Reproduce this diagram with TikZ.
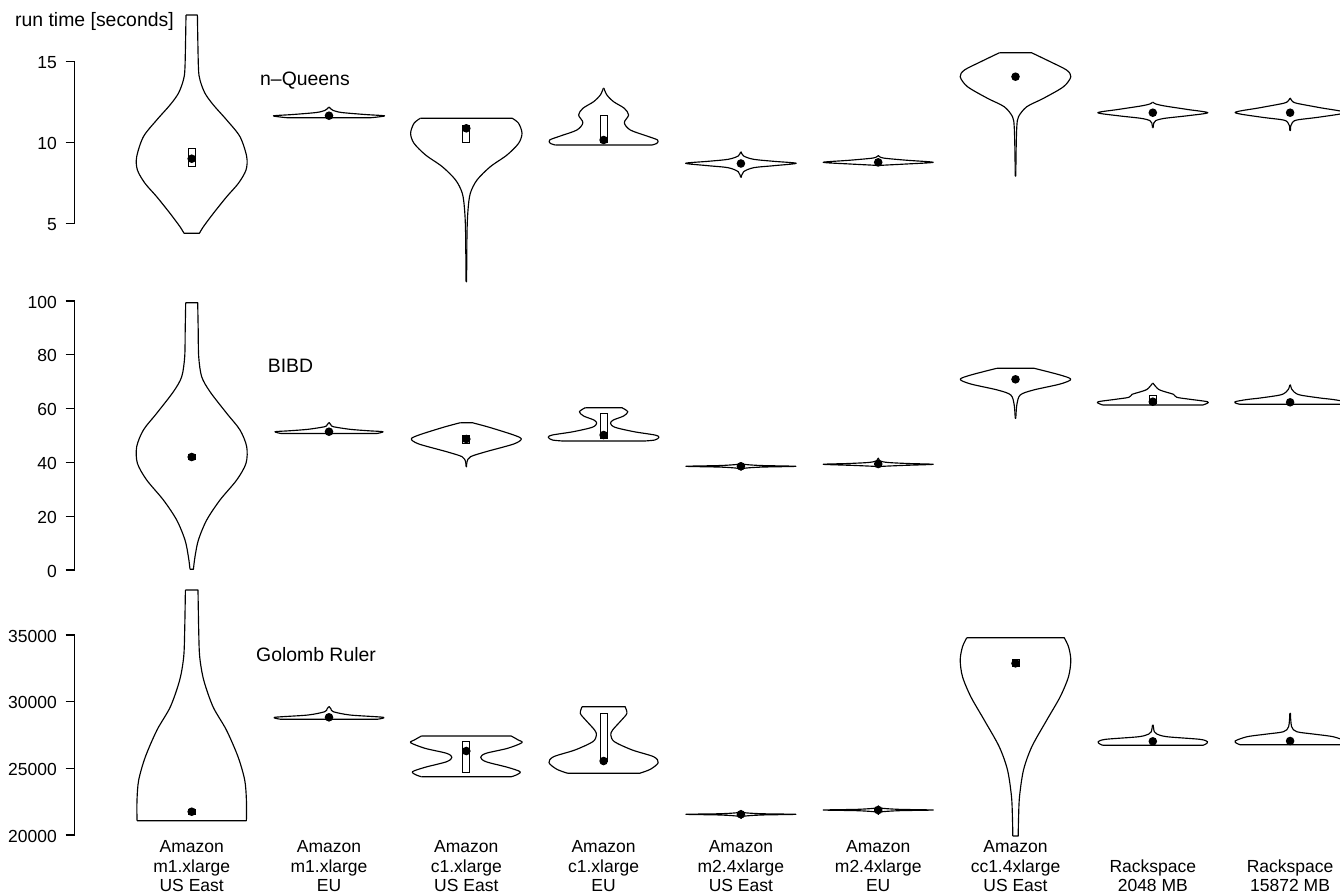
\documentclass[tikz,border=0pt]{standalone}
\usepackage{fontspec}
\setmainfont{Liberation Sans}
\begin{document}
\begin{tikzpicture}[x=1pt,y=-1pt,
  vl/.style={line width=1.15pt,line join=round},
  ax/.style={line width=1.15pt},
  ticklab/.style={anchor=base east,inner sep=0pt,font=\fontsize{17.5}{19.2}\selectfont},
  cat/.style={anchor=south,inner sep=0pt,align=center,font=\fontsize{17.5}{19.2}\selectfont},
  ttl/.style={anchor=base west,inner sep=0pt,font=\fontsize{19.4}{22}\selectfont}]
\useasboundingbox (0,0) rectangle (1340,895);
\newcommand\vio[6]{%
 \begin{scope}[shift={(#1,0)}]
 \draw[vl] (-#2,#3) -- (#2,#3) -- plot[smooth] coordinates {(#2,#3) #4 (#5,#6)} -- (-#5,#6);
 \draw[vl,xscale=-1] plot[smooth] coordinates {(#2,#3) #4 (#5,#6)};
 \end{scope}}
\newcommand\vbx[3]{\draw[line width=1pt,fill=white] (#1-3.5,#2) rectangle (#1+3.5,#3);}
\newcommand\vmed[2]{\fill (#1,#2) circle (4.3);}

% ---------------- axes ----------------
\draw[ax] (74.5,61.7) -- (74.5,223.3);
\foreach \y/\t [count=\i] in {61.7/15,142.7/10,223.3/5}{
  \draw[ax] (65.5,\y) -- (74.5,\y);
  \node[ticklab] (ta\i) at (57,\y+7) {\t};}
\draw[ax] (74.5,301) -- (74.5,570);
\foreach \y/\t [count=\i] in {301/100,354.8/80,408.6/60,462.4/40,516.2/20,570/0}{
  \draw[ax] (65.5,\y) -- (74.5,\y);
  \node[ticklab] (tb\i) at (57,\y+7) {\t};}
\draw[ax] (74.5,635) -- (74.5,835);
\foreach \y/\t [count=\i] in {635/35000,701.7/30000,768.3/25000,835/20000}{
  \draw[ax] (65.5,\y) -- (74.5,\y);
  \node[ticklab] (tc\i) at (57,\y+7) {\t};}

\node[ttl] (ylab) at (15,26.7) {run time [seconds]};
\node[ttl] (tq) at (260,85) {n–Queens};
\node[ttl] (tbibd) at (267.7,372.7) {BIBD};
\node[ttl] (tgol) at (256,661) {Golomb Ruler};

% ---------------- panel 1: n-Queens ----------------
\vio{191.7}{5.7}{15}{(6.7,66.7) (8.3,80) (13.3,93.3) (21.7,105) (35,120) (48.3,136.7) (55,156.7) (54.3,170) (46.7,183.3) (35,196.7) (21.7,213.3) (11.7,226.7)}{7.7}{233.3}
\vbx{191.7}{148.3}{166.7}\vmed{191.7}{158.7}
\vio{329}{0.3}{107.3}{(2,109) (4.3,110.5) (12.7,112.5) (36,114.5) (55.5,115.8) (47,117.2)}{42}{117.7}
\vmed{329}{115.7}
\vio{466.3}{46}{118.3}{(52.3,123.3) (55.7,133.3) (52.3,143.3) (40.7,155) (24,166.7) (10.7,180) (4,193.3) (1.7,210) (0.7,233.3)}{0.3}{281.7}
\vbx{466.3}{125}{142.7}\vmed{466.3}{128.3}
\vio{603.6}{0.3}{88.3}{(3.3,95) (10,101.7) (20.7,108.3) (25,115) (20.7,122.7) (26.7,130) (43.3,136) (54,140) (53.3,143.3)}{48.3}{145}
\vbx{603.6}{115}{142.7}\vmed{603.6}{140}
\vio{740.9}{0.3}{152}{(2.7,156) (12.7,159.3) (32.7,161.3) (55.3,163.3) (32.7,165.7) (12.7,167.7) (2.7,171.7)}{0.3}{177.3}
\vmed{740.9}{163.5}
\vio{878.2}{0.3}{155.7}{(5,158) (28,160.2) (55,162.3) (28,164) (5,165.2)}{0.3}{165.7}
\vmed{878.2}{162.3}
\vio{1015.5}{16}{52.7}{(34.7,61.7) (51,70) (55.3,76.7) (48,86.7) (28,98.3) (11.3,106.7) (3,116.7) (1.3,126.7) (0.6,150)}{0.3}{176}
\vmed{1015.5}{76.7}
\vio{1152.8}{0.3}{102.3}{(3,104) (12,106) (35,109.5) (55,112.7) (35,115.7) (12,118.3) (3,120.5) (1,123)}{0.3}{127.7}
\vmed{1152.8}{112.7}
\vio{1290.1}{0.3}{98.3}{(2,101) (6.7,103.3) (30,107.7) (55,112.5) (30,117) (6.7,120) (2,123) (0.6,126)}{0.3}{130.5}
\vmed{1290.1}{112.7}

% ---------------- panel 2: BIBD ----------------
\vio{191.7}{6}{302.7}{(6.5,330) (7,356.7) (10,376.7) (18.3,391.7) (35,413.3) (48.3,430) (55,446.7) (54.3,463.3) (45,480) (28.3,500) (15,520) (6.7,540) (3.3,556.7)}{1.7}{569.3}
\vbx{191.7}{454.5}{459.7}\vmed{191.7}{457}
\vio{329}{0.3}{422.7}{(2,425) (4.3,426.7) (21,429.3) (40,430.8) (54,431.7)}{48}{433.5}
\vmed{329}{431.7}
\vio{466.3}{6}{422.7}{(23,427.3) (47.4,435) (55,439) (47.4,444) (19.7,451.7) (4.2,456.7) (0.7,461.7)}{0.3}{466.7}
\vbx{466.3}{435}{443}\vmed{466.3}{439}
\vio{603.6}{18.3}{407.7}{(24.2,411.7) (20,416) (9.7,420) (6.9,423.3) (11.4,427.3) (30.4,431.7) (51.2,435) (55.4,437.3) (51.2,440)}{40.8}{441}
\vbx{603.6}{413.3}{438.3}\vmed{603.6}{435}
\vio{740.9}{0.3}{462.7}{(3,464.3) (20,465.5) (55,466.3) (20,467.1) (3,468.3)}{0.3}{470}
\vmed{740.9}{466.3}
\vio{878.2}{0.3}{458.3}{(2,461) (10,462.5) (30,463.5) (55,464.3) (25,465.4) (3,466.4)}{0.3}{467}
\vmed{878.2}{464}
\vio{1015.5}{18.7}{368.3}{(44.7,375) (55.3,379.3) (44.7,384) (18,390) (4.7,395) (1.3,405)}{0.3}{418.3}
\vmed{1015.5}{379.3}
\vio{1152.8}{0.3}{383.3}{(5.7,389.3) (14,392.3) (20.7,394.3) (24,397.3) (37.3,399.3) (54.7,401.7) (54,403.5)}{50}{405}
\vbx{1152.8}{395}{403.3}\vmed{1152.8}{401.7}
\vio{1290.1}{0.3}{385}{(1.5,389) (4,392) (10,395) (30,398) (43,399.5) (55,401.7) (54,403.3)}{50}{404.3}
\vmed{1290.1}{402.3}

% ---------------- panel 3: Golomb Ruler ----------------
\vio{191.7}{6.3}{590}{(7,630) (8,656.7) (12,680) (21.3,706.7) (34.7,730) (46.3,756.7) (53,780) (54.7,800)}{54.7}{820.7}
\vbx{191.7}{809.5}{814}\vmed{191.7}{811.7}
\vio{329}{0.3}{706.7}{(2,709) (4.3,711.7) (21,715) (54.3,717.3)}{48}{719.3}
\vmed{329}{717.3}
\vio{466.3}{44.9}{736}{(52,740) (55.6,742.7) (41.3,748.3) (19.7,753.3) (14.4,757.3) (19.7,761.7) (41.3,767.3) (53.8,771.7) (50,775)}{45}{776.7}
\vbx{466.3}{741.7}{772.3}\vmed{466.3}{751}
\vio{603.6}{21.5}{706.7}{(23.3,713.3) (18,720) (9,730) (7.2,735) (10.8,741.7) (28.7,750) (50,756.7) (54.6,762.7) (46.7,769.3)}{35.9}{773.3}
\vbx{603.6}{713.3}{761.7}\vmed{603.6}{761}
\vio{740.9}{0.3}{810.5}{(2,812.5) (20,813.7) (55,814.3) (20,815) (2,816.3)}{0.3}{818.3}
\vmed{740.9}{814.3}
\vio{878.2}{0.3}{806}{(2,808) (20,809.3) (55,810) (20,810.7) (2,812)}{0.3}{814.3}
\vmed{878.2}{810}
\vio{1015.5}{48.7}{637.7}{(53,646.7) (55.3,660) (53,676.7) (44.7,696.7) (31.3,720) (16.3,746.7) (8,770) (4,796.7) (3,820)}{2.7}{836}
\vbx{1015.5}{659.7}{666.7}\vmed{1015.5}{663.3}
\vio{1152.8}{0.3}{725}{(1.5,731.7) (4,734) (14,736.7) (47,739.3) (54.7,741.7) (53,744)}{50}{745.3}
\vmed{1152.8}{741.3}
\vio{1290.1}{0.3}{713.3}{(1.5,726.7) (6.7,731.7) (23,734) (43,736.7) (55,741) (53,743.5)}{50}{744.7}
\vmed{1290.1}{741}

% ---------------- category labels ----------------
\node[cat] (c1) at (191.7,891.7) {Amazon\\m1.xlarge\\US East};
\node[cat] (c2) at (329,891.7) {Amazon\\m1.xlarge\\EU};
\node[cat] (c3) at (466.3,891.7) {Amazon\\c1.xlarge\\US East};
\node[cat] (c4) at (603.6,891.7) {Amazon\\c1.xlarge\\EU};
\node[cat] (c5) at (740.9,891.7) {Amazon\\m2.4xlarge\\US East};
\node[cat] (c6) at (878.2,891.7) {Amazon\\m2.4xlarge\\EU};
\node[cat] (c7) at (1015.5,891.7) {Amazon\\cc1.4xlarge\\US East};
\node[cat] (c8) at (1152.8,891.7) {Rackspace\\2048 MB};
\node[cat] (c9) at (1290.1,891.7) {Rackspace\\15872 MB};
\end{tikzpicture}
\end{document}
